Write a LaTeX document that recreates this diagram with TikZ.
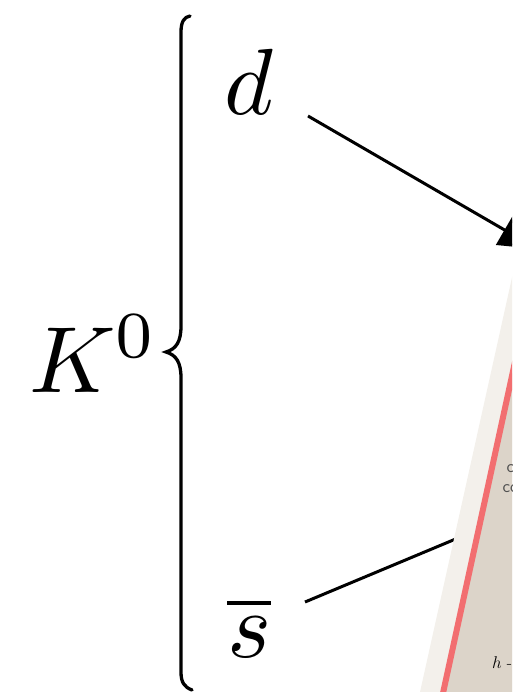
\documentclass[tikz,border=0pt]{standalone}
\usepackage{fix-cm}
\usepackage{graphicx}
\usetikzlibrary{arrows.meta}
\definecolor{bandlight}{RGB}{243,240,235}
\definecolor{banddark}{RGB}{220,212,201}
\definecolor{bandred}{RGB}{242,110,112}
\definecolor{smallgray}{RGB}{80,80,80}
\tikzset{
  bigmath/.style={inner sep=0pt, anchor=base west},
  arrowline/.style={line width=3pt},
  bracestyle/.style={line width=3.3pt, line cap=round},
  smalltext/.style={inner sep=0pt, anchor=base west, text=smallgray, font=\sffamily\fontsize{18}{20}\selectfont},
}
\begin{document}
\begin{tikzpicture}[x=1pt,y=-1pt]
\useasboundingbox (0,0) rectangle (512,692);
\clip (0,0) rectangle (512,692);
% labels
\node[bigmath] (K) at (29,392) {\scalebox{9.4}{$K^0$}};
\node[bigmath] (d) at (224,115) {\scalebox{9.4}{$d$}};
\node[bigmath] (sb) at (227,657) {\scalebox{9.4}{$\overline{s}$}};
% brace
\draw[bracestyle] (190,16) .. controls (184,17) and (181,22) .. (181,32)
  -- (181,326) .. controls (181,342) and (176,349) .. (166,352)
  .. controls (176,355) and (181,362) .. (181,378)
  -- (181,672) .. controls (181,682) and (184,687) .. (192,690);
% lower connector (runs under the band)
\coordinate (b1) at (305,602);
\coordinate (b2) at (470,533);
\draw[arrowline] (b1) -- (b2);
% band
\fill[bandlight] (420,692) -- (573.6,0) -- (620,0) -- (620,692) -- cycle;
\fill[banddark] (441.5,692) -- (595.1,0) -- (620,0) -- (620,692) -- cycle;
\coordinate (r1) at (441.5,700);
\coordinate (r2) at (528.5,300);
\draw[bandred, line width=6pt] (r1) -- (r2);
% small texts
\node[smalltext] (t1) at (506.5,472) {c};
\node[smalltext] (t2) at (502.5,492) {co};
\node[inner sep=0pt, anchor=base west, font=\fontsize{17}{20}\selectfont] (t3) at (492,668) {$h$ -};
% upper arrow
\coordinate (a1) at (308,116);
\coordinate (a2) at (537.4,249);
\draw[arrowline, -{Triangle[width=34pt,length=38pt]}] (a1) -- (a2);
\end{tikzpicture}
\end{document}
